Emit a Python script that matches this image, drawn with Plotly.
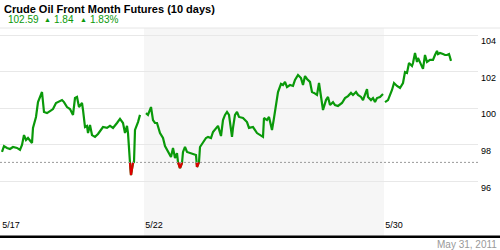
import plotly.graph_objects as go

# time step (chart bar index) and front-month crude price
t = [2, 4, 7, 10, 13, 17, 20, 22, 24, 26, 28, 32, 33, 36, 38, 40, 42, 44, 47, 50,
     53, 56, 58, 62, 64, 67, 70, 73, 75, 77, 79, 82, 83, 85, 87, 88, 90, 92, 95, 98,
     103, 107, 110, 113, 117, 120, 123, 125, 127, 128, 130, 131, 133, 134, 135, 137, 138, 140,
     143,
     146, 148, 151, 153, 155, 157, 160, 163, 165, 168, 171, 173, 175, 177, 178, 180, 182, 183,
     185, 187, 190, 193, 196, 197, 199, 200, 203, 206, 208, 211, 213, 216, 218, 221, 223, 225,
     227, 229, 232, 233, 235, 237, 239, 243, 247, 249, 253, 257, 260, 263, 264, 267, 269, 272,
     274, 276, 278, 281, 283, 285, 287, 290, 293, 295, 298, 301, 303, 305, 307, 310, 312, 314,
     317, 319, 321, 323, 326, 328, 330, 333, 335, 338, 342, 345, 348, 351, 353, 356, 358, 361,
     363, 365, 367, 368, 371, 373, 375, 377, 380, 383,
     384,
     385, 388, 392, 394, 397, 400, 403, 405, 407, 409, 412, 413, 415, 417, 418, 420, 422, 423,
     425, 427, 430, 433, 435, 437, 438, 440, 443, 445, 447, 449, 451]
price = [97.62, 97.94, 97.84, 97.78, 97.89, 97.84, 97.73, 98.00, 98.54, 98.27, 98.38, 98.11,
         98.93, 99.53, 100.34, 100.62, 100.89, 99.80, 99.74, 99.85, 99.96, 100.29, 100.34, 100.45,
         100.34, 100.07, 99.96, 99.64, 100.56, 100.62, 100.07, 100.29, 99.91, 98.98, 99.04, 98.65,
         99.09, 98.54, 98.44, 98.60, 98.98, 98.93, 99.04, 98.93, 99.20, 99.42, 99.20, 98.65, 99.04,
         98.65, 97.02, 96.36, 97.02, 97.07, 98.82, 99.09, 99.25, 99.64,
         None,
         99.74, 99.64, 100.07, 99.36, 99.20, 99.20, 98.65, 98.38, 97.94, 97.62, 97.34, 97.84, 97.29,
         97.56, 97.07, 96.74, 97.02, 97.62, 97.89, 97.62, 97.56, 97.51, 97.45, 96.80, 97.07, 97.89,
         98.16, 98.38, 98.44, 98.38, 98.71, 98.93, 99.04, 98.49, 99.36, 99.64, 99.80, 99.64, 98.44,
         98.93, 99.64, 99.80, 99.53, 99.47, 99.25, 98.93, 98.98, 98.65, 98.54, 98.44, 99.47, 99.36,
         99.53, 98.82, 99.47, 100.34, 100.89, 101.33, 101.27, 101.44, 101.16, 101.27, 101.22, 101.55,
         101.82, 101.65, 101.27, 101.76, 101.60, 101.44, 100.89, 100.84, 100.73, 101.38, 100.73,
         99.91, 100.45, 100.62, 100.18, 100.34, 100.18, 100.13, 100.29, 100.56, 100.67, 100.84,
         100.73, 100.89, 100.73, 100.62, 100.45, 100.73, 101.05, 100.62, 100.45, 100.56, 100.34,
         100.56, 100.62, 100.78,
         None,
         100.34, 100.45, 101.00, 101.38, 101.22, 101.11, 101.38, 101.98, 101.93, 102.47, 102.31,
         102.47, 103.02, 102.53, 102.75, 102.47, 102.25, 102.15, 102.91, 102.53, 102.64, 102.64,
         102.91, 103.13, 102.96, 103.02, 102.96, 102.91, 102.91, 102.96, 102.59]

reference_price = 97.05
last_price = 102.59
change = 1.84
change_pct = 1.83
day_ticks = [1, 144, 384]
day_labels = ["5/17", "5/22", "5/30"]
shaded_span = [144, 384]
price_grid = [94, 96, 98, 100, 102, 104]
price_labels = ["", "96", "98", "100", "102", "104"]
date_text = "May 31, 2011"
title_text = "Crude Oil Front Month Futures (10 days)"

GREEN = "#0a990a"
RED = "#dd0000"
FONT = "Liberation Sans, Arial, sans-serif"

# portions of the line below the reference price, drawn in red
rx, ry = [], []
for i in range(len(t) - 1):
    p0, p1 = price[i], price[i + 1]
    if p0 is None or p1 is None:
        continue
    b0, b1 = p0 < reference_price, p1 < reference_price
    if not (b0 or b1):
        continue
    x0, x1 = t[i], t[i + 1]
    if b0 and b1:
        seg = [(x0, p0), (x1, p1)]
    else:
        f = (reference_price - p0) / (p1 - p0)
        xc = x0 + f * (x1 - x0)
        seg = [(x0, p0), (xc, reference_price)] if b0 else [(xc, reference_price), (x1, p1)]
    for x, y in seg:
        rx.append(x)
        ry.append(y)
    rx.append(None)
    ry.append(None)

fig = go.Figure()
fig.add_trace(go.Scatter(x=t, y=price, mode="lines", connectgaps=False,
                         line=dict(color=GREEN, width=2.2), hoverinfo="skip"))
fig.add_trace(go.Scatter(x=rx, y=ry, mode="lines",
                         line=dict(color=RED, width=2.2), hoverinfo="skip"))

Y_TOP = 1 - 28 / 250
Y_BASE = 1 - 236.8 / 250

fig.add_shape(type="rect", xref="x", yref="paper", x0=shaded_span[0], x1=shaded_span[1],
              y0=Y_BASE, y1=Y_TOP, fillcolor="#f6f6f6", line_width=0, layer="below")
fig.add_shape(type="line", xref="paper", yref="paper", x0=0, x1=1, y0=Y_TOP, y1=Y_TOP,
              line=dict(color="#e6e6e6", width=1), layer="below")
fig.add_shape(type="line", xref="x", yref="y", x0=0, x1=478, y0=reference_price,
              y1=reference_price, line=dict(color="#999999", width=1, dash="2px,2px"))
fig.add_shape(type="line", xref="paper", yref="paper", x0=0, x1=1, y0=Y_BASE, y1=Y_BASE,
              line=dict(color="#000000", width=2.5))

fig.update_layout(
    width=500, height=250, margin=dict(l=0, r=0, t=0, b=0),
    paper_bgcolor="white", plot_bgcolor="rgba(0,0,0,0)", showlegend=False,
    font=dict(family=FONT, size=9, color="#000"),
    xaxis=dict(domain=[0, 478 / 500], range=[0, 478], tickvals=day_ticks, ticktext=day_labels,
               showgrid=False, zeroline=False, showline=False, ticks="",
               ticklabelshift=10, tickfont=dict(size=9, color="#000")),
    yaxis=dict(domain=[1 - 218.3 / 250, Y_TOP], range=[94, 104 + 7 / 18.33], side="right",
               tickvals=price_grid, ticktext=price_labels, showgrid=True,
               gridcolor="#e8e8e8", gridwidth=1, zeroline=False, showline=False, ticks="",
               ticklabelshift=6, ticklabelstandoff=2, tickfont=dict(size=9, color="#000")),
)

ann = [
    dict(text="<b>" + title_text + "</b>", x=2, y=8.5, size=11, color="#000"),
    dict(text=f"{last_price:.2f}", x=6, y=20, size=10, color=GREEN),
    dict(text="▲", x=42, y=19.5, size=7, color=GREEN),
    dict(text=f"{change:.2f}", x=52, y=20, size=10, color=GREEN),
    dict(text="▲", x=78, y=19.5, size=7, color=GREEN),
    dict(text=f"{change_pct:.2f}%", x=88, y=20, size=10, color=GREEN),
]
for a in ann:
    fig.add_annotation(text=a["text"], xref="paper", yref="paper", x=a["x"] / 500,
                       y=1 - a["y"] / 250, xanchor="left", yanchor="middle", showarrow=False,
                       font=dict(family=FONT, size=a["size"], color=a["color"]))
fig.add_annotation(text=date_text, xref="paper", yref="paper", x=499 / 500, y=1 - 244 / 250,
                   xanchor="right", yanchor="middle", showarrow=False,
                   font=dict(family=FONT, size=10, color="#999999"))

fig.write_html("out.html")
